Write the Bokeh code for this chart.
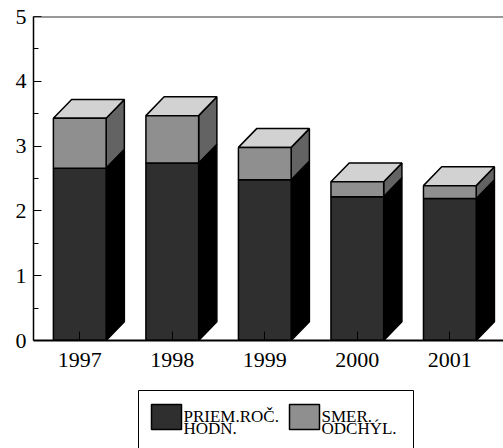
from bokeh.plotting import figure
from bokeh.models import Range1d, FixedTicker, Span, ColumnDataSource
from bokeh.layouts import column
from bokeh.embed import file_html
from bokeh.resources import INLINE
from bokeh.core.properties import value

# ---- data ----
years = ["1997", "1998", "1999", "2000", "2001"]
priem = [2.66, 2.74, 2.48, 2.22, 2.19]      # PRIEM.ROČ. HODN.
smer = [0.77, 0.73, 0.50, 0.23, 0.20]       # SMER. ODCHÝL.
y_ticks = [0, 1, 2, 3, 4, 5]
legend_lines = [["PRIEM.ROČ.", "HODN."], ["SMER.", "ODCHÝL."]]

# ---- style ----
C_DARK = "#2f2f2f"
C_DARK_SIDE = "#000000"
C_GREY = "#8f8f8f"
C_GREY_SIDE = "#636363"
C_TOP = "#d2d2d2"
W = 0.57      # bar front width (category units)
DX = 0.197    # depth offset x
DY = 0.29     # depth offset y
FONT = "Liberation Serif"

centres = [i + 0.5 for i in range(len(years))]
tops = [a + b for a, b in zip(priem, smer)]

p = figure(width=503, height=380, x_range=Range1d(0, 5.08), y_range=Range1d(0, 5),
           output_backend="svg", toolbar_location=None,
           min_border_left=33, min_border_right=0, min_border_top=16, min_border_bottom=40)
p.outline_line_color = None
p.grid.visible = False
p.background_fill_color = "white"
p.border_fill_color = "white"

def side(x0, y0, y1):
    return [x0, x0 + DX, x0 + DX, x0], [y0, y0 + DY, y1 + DY, y1]

dark_side_xs, dark_side_ys, grey_side_xs, grey_side_ys, top_xs, top_ys = [], [], [], [], [], []
for c, d, t in zip(centres, priem, tops):
    r = c + W / 2
    l = c - W / 2
    xs, ys = side(r, 0, d)
    dark_side_xs.append(xs); dark_side_ys.append(ys)
    xs, ys = side(r, d, t)
    grey_side_xs.append(xs); grey_side_ys.append(ys)
    top_xs.append([l, r, r + DX, l + DX]); top_ys.append([t, t, t + DY, t + DY])

p.patches(dark_side_xs, dark_side_ys, fill_color=C_DARK_SIDE, line_color="black", line_width=1.5)
p.patches(grey_side_xs, grey_side_ys, fill_color=C_GREY_SIDE, line_color="black", line_width=1.5)
p.patches(top_xs, top_ys, fill_color=C_TOP, line_color="black", line_width=1.5)

src = ColumnDataSource(dict(
    left=[c - W / 2 for c in centres], right=[c + W / 2 for c in centres],
    priem=priem, top=tops))
p.quad(left="left", right="right", bottom=0, top="priem", source=src,
       fill_color=C_DARK, line_color="black", line_width=1.5)
p.quad(left="left", right="right", bottom="priem", top="top", source=src,
       fill_color=C_GREY, line_color="black", line_width=1.5)

p.add_layout(Span(location=5, dimension="width", line_color="#333333", line_width=2))

# axes
p.xaxis.ticker = FixedTicker(ticks=centres)
p.xaxis.major_label_overrides = {c: y for c, y in zip(centres, years)}
p.xaxis.major_tick_in = 9
p.xaxis.major_tick_out = 0
p.xaxis.axis_line_width = 2
p.xaxis.major_label_standoff = 12
p.xaxis.major_label_text_font_size = "22px"

p.yaxis.ticker = FixedTicker(ticks=y_ticks, minor_ticks=[t + 0.5 for t in y_ticks[:-1]])
p.yaxis.major_tick_in = 8
p.yaxis.major_tick_out = 0
p.yaxis.minor_tick_in = 5
p.yaxis.minor_tick_out = 0
p.yaxis.axis_line_width = 1.5
p.yaxis.major_label_standoff = 7
p.yaxis.major_label_text_font_size = "22px"

for ax in (p.xaxis, p.yaxis):
    ax.major_label_text_font = FONT
    ax.major_label_text_color = "black"
    ax.axis_line_color = "black"
    ax.major_tick_line_color = "black"
p.xaxis.minor_tick_line_color = None
p.yaxis.minor_tick_line_color = "black"

# ---- legend panel (frame is aligned with the chart frame: x from 33 to 503 px) ----
lf = figure(width=503, height=68, x_range=Range1d(33, 503), y_range=Range1d(68, 0),
            output_backend="svg", toolbar_location=None, x_axis_type=None, y_axis_type=None,
            min_border=0)
lf.outline_line_color = None
lf.grid.visible = False
lf.quad(left=138, right=413, top=10, bottom=90, fill_color=None, line_color="black", line_width=1)
sw_left = [151, 289]
sw_cols = [C_DARK, C_GREY]
lf.quad(left=sw_left, right=[x + 30 for x in sw_left], top=24, bottom=49,
        fill_color=sw_cols, line_color="black", line_width=1.5)
tx, ty, tt = [], [], []
for x, lines in zip(sw_left, legend_lines):
    for j, s in enumerate(lines):
        tx.append(x + 32); ty.append(35.5 + j * 12.5); tt.append(s)
lf.text(x=tx, y=ty, text=tt, text_font=value(FONT), text_font_size="17px",
        text_baseline="alphabetic", text_align="left", text_color="black")

layout = column(p, lf, spacing=0)
open("out.html", "w").write(file_html(layout, INLINE))
